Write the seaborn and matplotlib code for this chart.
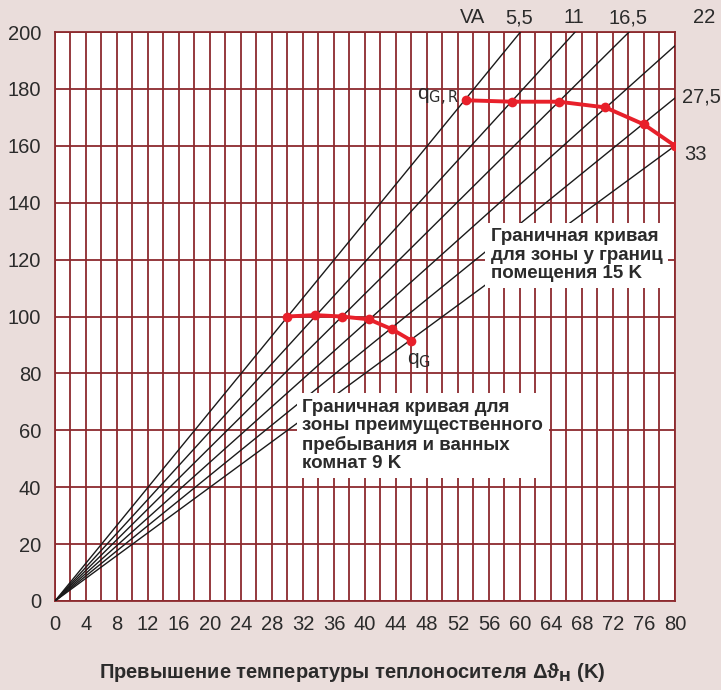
import numpy as np
import pandas as pd
import matplotlib.pyplot as plt
import seaborn as sns

# Fan lines through the origin (slope q / dT) and their labels
line_slopes = [3.33, 2.98, 2.70, 2.44, 2.21, 2.00]
line_labels = ['5,5', '11', '16,5', '22', '27,5', '33']

# Limit curve for room edge zone (15 K)
upper_x = [53, 59, 65, 71, 76, 80]
upper_y = [176, 175.5, 175.5, 173.5, 167.5, 160]

# Limit curve for occupied zone / bathrooms (9 K)
lower_x = [30, 33.5, 37, 40.5, 43.5, 46]
lower_y = [100, 100.5, 100, 99, 95.5, 91.5]

x_ticks = list(range(0, 81, 4))
y_ticks = list(range(0, 201, 20))

bg = '#eaddDB'
grid_col = '#8c2a2e'
red = '#e8202a'
txt_col = '#2b2b2b'

sns.set_theme(style='white')
plt.rcParams['font.family'] = ['Liberation Sans', 'DejaVu Sans']

fig = plt.figure(figsize=(7.21, 6.90), dpi=100, facecolor=bg)
ax = fig.add_axes([55 / 721, 1 - 601 / 690, 620 / 721, 569 / 690])
ax.set_facecolor('white')

# fan lines
fan = pd.DataFrame({
    'x': np.tile([0, 80], len(line_slopes)),
    'y': np.concatenate([[0, s * 80] for s in line_slopes]),
    'line': np.repeat(line_labels, 2),
})
sns.lineplot(data=fan, x='x', y='y', units='line', estimator=None,
             color='#1a1a1a', lw=1.0, ax=ax, zorder=3)

# limit curves
for xs, ys in [(upper_x, upper_y), (lower_x, lower_y)]:
    sns.lineplot(x=xs, y=ys, color=red, lw=2.8, marker='o', markersize=7,
                 markeredgewidth=0, sort=False, ax=ax, zorder=5)

ax.set_xlim(0, 80)
ax.set_ylim(0, 200)
ax.set_xticks(x_ticks)
ax.set_xticks(range(0, 81, 2), minor=True)
ax.set_yticks(y_ticks)
ax.grid(True, which='both', axis='x', color=grid_col, lw=1.3, zorder=1)
ax.grid(True, which='major', axis='y', color=grid_col, lw=1.3, zorder=1)
ax.set_axisbelow(True)
for sp in ax.spines.values():
    sp.set_color(grid_col)
    sp.set_linewidth(1.3)
ax.tick_params(axis='both', which='both', direction='out', length=5, width=1.3,
               color=grid_col, labelcolor=txt_col, labelsize=14.5, pad=5)
ax.tick_params(axis='x', which='minor', length=5)

ax.set_xlabel('Превышение температуры теплоносителя Δϑ$_\\mathbf{H}$ (K)',
              fontsize=14.5, fontweight='bold', color=txt_col)
ax.xaxis.set_label_coords((352 - 55) / 620, (601 - 673) / 569)
ax.xaxis.label.set_va('center')
ax.set_ylabel('')

# line labels
lab_kw = dict(fontsize=14.5, color=txt_col, clip_on=False)
ax.text(53.9, 205, 'VA', ha='center', va='center', **lab_kw)
for s, lab in zip(line_slopes, line_labels):
    if 200 / s <= 80:
        ax.text(200 / s - 0.2, 205, lab, ha='center', va='center', **lab_kw)
    elif lab == '22':
        ax.text(82.3, 205, lab, ha='left', va='center', **lab_kw)
    elif lab == '27,5':
        ax.text(80.9, s * 80 + 0.5, lab, ha='left', va='center', **lab_kw)
    else:
        ax.text(81.2, s * 80 - 3, lab, ha='left', va='center', **lab_kw)

ax.text(upper_x[0] - 0.8, upper_y[0] + 1, 'q$_{\\mathrm{G,R}}$', fontsize=15,
        color=txt_col, ha='right', va='center', zorder=6)
ax.text(lower_x[-1] - 0.6, lower_y[-1] - 3.5, 'q$_{\\mathrm{G}}$', fontsize=15,
        color=txt_col, ha='left', va='top', zorder=6)

box = dict(boxstyle='square,pad=0.3', fc='white', ec='none')
ax.text(56.2, 131, 'Граничная кривая\nдля зоны у границ\nпомещения 15 K',
        fontsize=13.5, fontweight='bold', color=txt_col, ha='left', va='top',
        linespacing=1.1, bbox=box, zorder=4)
ax.text(31.9, 71, 'Граничная кривая для\nзоны преимущественного\nпребывания и ванных\nкомнат 9 K',
        fontsize=13.5, fontweight='bold', color=txt_col, ha='left', va='top',
        linespacing=1.1, bbox=box, zorder=4)

fig.savefig('out.png', dpi=100, facecolor=bg)
